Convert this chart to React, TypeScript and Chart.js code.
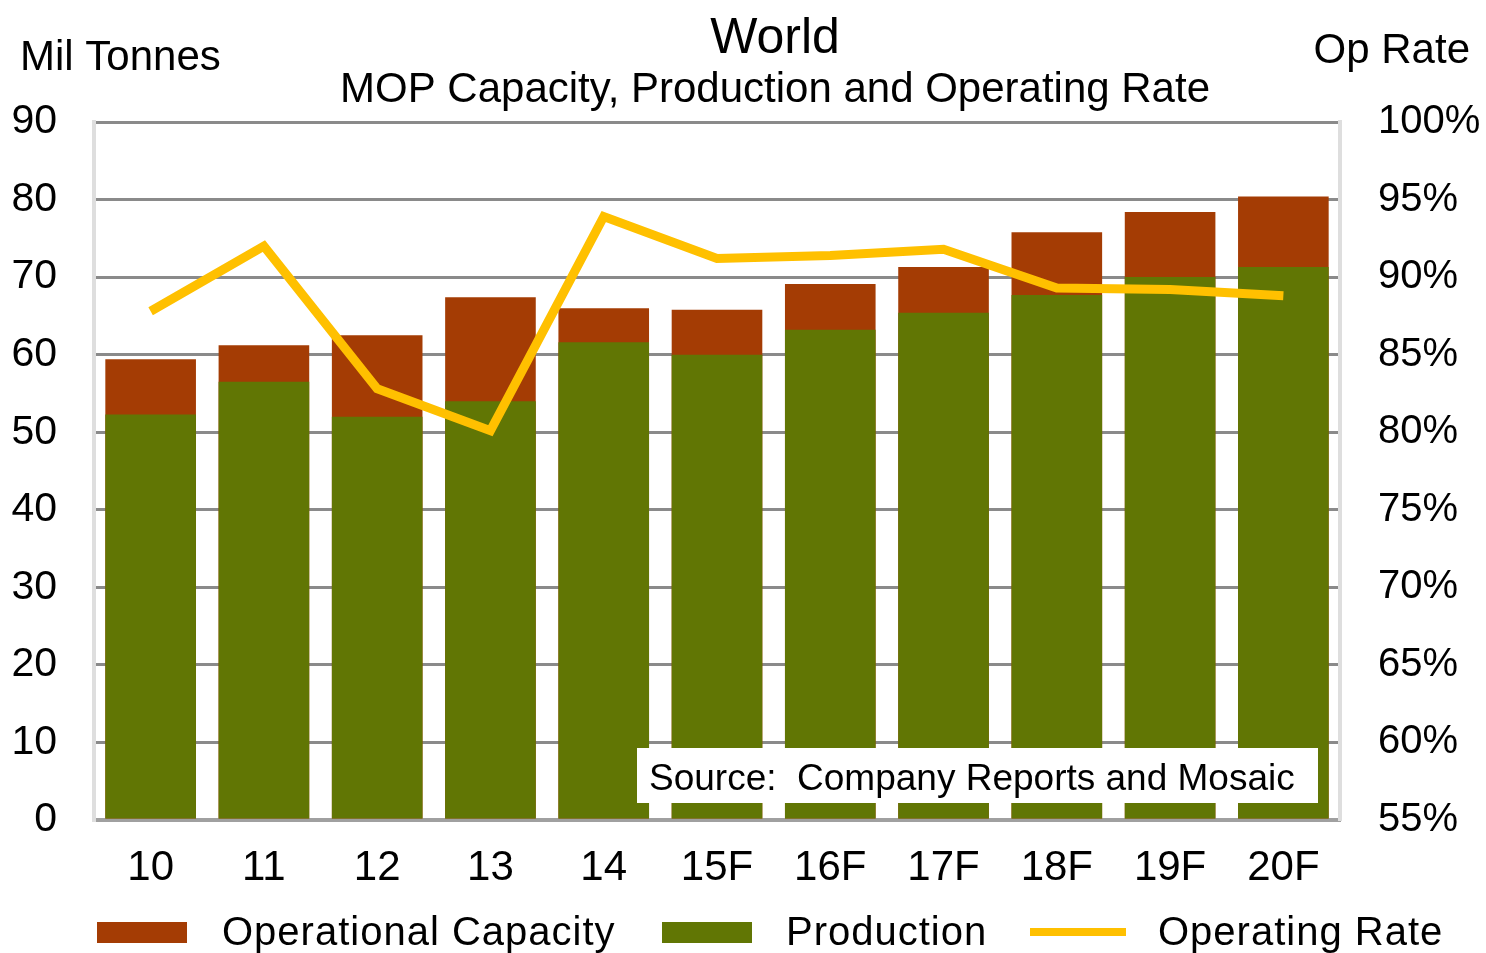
import React, { useEffect, useRef } from "react";
import { Chart, registerables } from "chart.js";

Chart.register(...registerables);

const categories = ["10", "11", "12", "13", "14", "15F", "16F", "17F", "18F", "19F", "20F"];
const capacity = [59.4, 61.2, 62.5, 67.4, 66.0, 65.8, 69.1, 71.3, 75.8, 78.4, 80.4];
const production = [52.3, 56.5, 52.0, 54.0, 61.6, 60.0, 63.2, 65.4, 67.7, 70.0, 71.3];
const operatingRate = [87.8, 92.0, 82.8, 80.1, 93.9, 91.2, 91.4, 91.8, 89.3, 89.2, 88.8];

const titleText = "World";
const subtitleText = "MOP Capacity, Production and Operating Rate";
const leftAxisTitle = "Mil Tonnes";
const rightAxisTitle = "Op Rate";
const sourceText = "Source:  Company Reports and Mosaic";

const FONT = "'Liberation Sans', Arial, sans-serif";
const CAP_COLOR = "#A43C04";
const PROD_COLOR = "#617604";
const LINE_COLOR = "#FFC000";

const overlayPlugin = {
  id: "overlay",
  afterDatasetsDraw(chart: any) {
    const ctx = chart.ctx as CanvasRenderingContext2D;
    const area = chart.chartArea;
    ctx.save();
    // source box inside plot area (bottom right)
    const bx = area.right - 703;
    const by = area.bottom - 72;
    ctx.fillStyle = "#ffffff";
    ctx.fillRect(bx, by, 681, 55);
    ctx.fillStyle = "#000";
    ctx.font = `37px ${FONT}`;
    ctx.textBaseline = "alphabetic";
    ctx.textAlign = "left";
    ctx.fillText(sourceText, bx + 12, by + 42);
    ctx.restore();
  },
  afterDraw(chart: any) {
    const ctx = chart.ctx as CanvasRenderingContext2D;
    ctx.save();
    ctx.fillStyle = "#000";
    ctx.textBaseline = "alphabetic";
    // titles
    ctx.textAlign = "center";
    ctx.font = `50px ${FONT}`;
    ctx.fillText(titleText, 775, 53);
    ctx.font = `42px ${FONT}`;
    ctx.fillText(subtitleText, 775, 102);
    ctx.textAlign = "left";
    ctx.fillText(leftAxisTitle, 20, 70);
    ctx.textAlign = "right";
    ctx.fillText(rightAxisTitle, 1470, 63);

    // legend
    const ds = chart.data.datasets;
    const items = [
      { x: 97, textX: 222, kind: "box" },
      { x: 662, textX: 786, kind: "box" },
      { x: 1030, textX: 1158, kind: "line" },
    ];
    ctx.textAlign = "left";
    ctx.font = `40px ${FONT}`;
    (ctx as any).letterSpacing = "1px";
    items.forEach((it, i) => {
      const d = ds[i];
      if (it.kind === "box") {
        ctx.fillStyle = d.backgroundColor;
        ctx.fillRect(it.x, 922, 90, 21);
      } else {
        ctx.strokeStyle = d.borderColor;
        ctx.lineWidth = 8;
        ctx.beginPath();
        ctx.moveTo(it.x, 932);
        ctx.lineTo(it.x + 96, 932);
        ctx.stroke();
      }
      ctx.fillStyle = "#000";
      ctx.fillText(d.label, it.textX, 945);
    });
    ctx.restore();
  },
};

export default function App() {
  const ref = useRef<HTMLCanvasElement | null>(null);

  useEffect(() => {
    document.body.style.margin = "0";
    if (!ref.current) return;
    const chart = new Chart(ref.current, {
      type: "bar",
      data: {
        labels: categories,
        datasets: [
          {
            type: "bar",
            label: "Operational Capacity",
            data: capacity,
            backgroundColor: CAP_COLOR,
            yAxisID: "y",
            order: 3,
            barPercentage: 0.8,
            categoryPercentage: 1,
          },
          {
            type: "bar",
            label: "Production",
            data: production,
            backgroundColor: PROD_COLOR,
            yAxisID: "y",
            order: 2,
            barPercentage: 0.8,
            categoryPercentage: 1,
          },
          {
            type: "line",
            label: "Operating Rate",
            data: operatingRate,
            borderColor: LINE_COLOR,
            backgroundColor: LINE_COLOR,
            borderWidth: 9,
            pointRadius: 0,
            tension: 0,
            borderJoinStyle: "miter",
            yAxisID: "y1",
            order: 1,
          } as any,
        ],
      },
      options: {
        responsive: false,
        animation: false,
        layout: { padding: { top: 122, bottom: 0, left: 0, right: 0 } },
        plugins: {
          legend: { display: false },
          title: { display: false },
          tooltip: { enabled: false },
        },
        scales: {
          x: {
            stacked: true,
            offset: true,
            grid: { display: false, drawTicks: false },
            border: { display: true, color: "#a0a0a0", width: 4 },
            ticks: {
              color: "#000",
              font: { family: FONT, size: 42 },
              padding: 23,
              maxRotation: 0,
              autoSkip: false,
            },
            afterFit: (s: any) => {
              s.height = 133;
            },
          },
          y: {
            position: "left",
            min: 0,
            max: 90,
            stacked: false,
            ticks: {
              stepSize: 10,
              color: "#000",
              font: { family: FONT, size: 41 },
              padding: 37,
            },
            grid: { color: "#8a8a8a", lineWidth: 3, drawTicks: false },
            border: { display: true, color: "#dedede", width: 4 },
            afterFit: (s: any) => {
              s.width = 94;
            },
          },
          y1: {
            position: "right",
            min: 55,
            max: 100,
            ticks: {
              stepSize: 5,
              color: "#000",
              font: { family: FONT, size: 40 },
              padding: 38,
              callback: (v: any) => `${v}%`,
            },
            grid: { display: false, drawTicks: false },
            border: { display: true, color: "#dedede", width: 4 },
            afterFit: (s: any) => {
              s.width = 146;
            },
          },
        },
      },
      plugins: [overlayPlugin],
    });
    return () => chart.destroy();
  }, []);

  return (
    <div style={{ width: 1486, height: 953 }}>
      <canvas ref={ref} width={1486} height={953} style={{ display: "block" }} />
    </div>
  );
}
